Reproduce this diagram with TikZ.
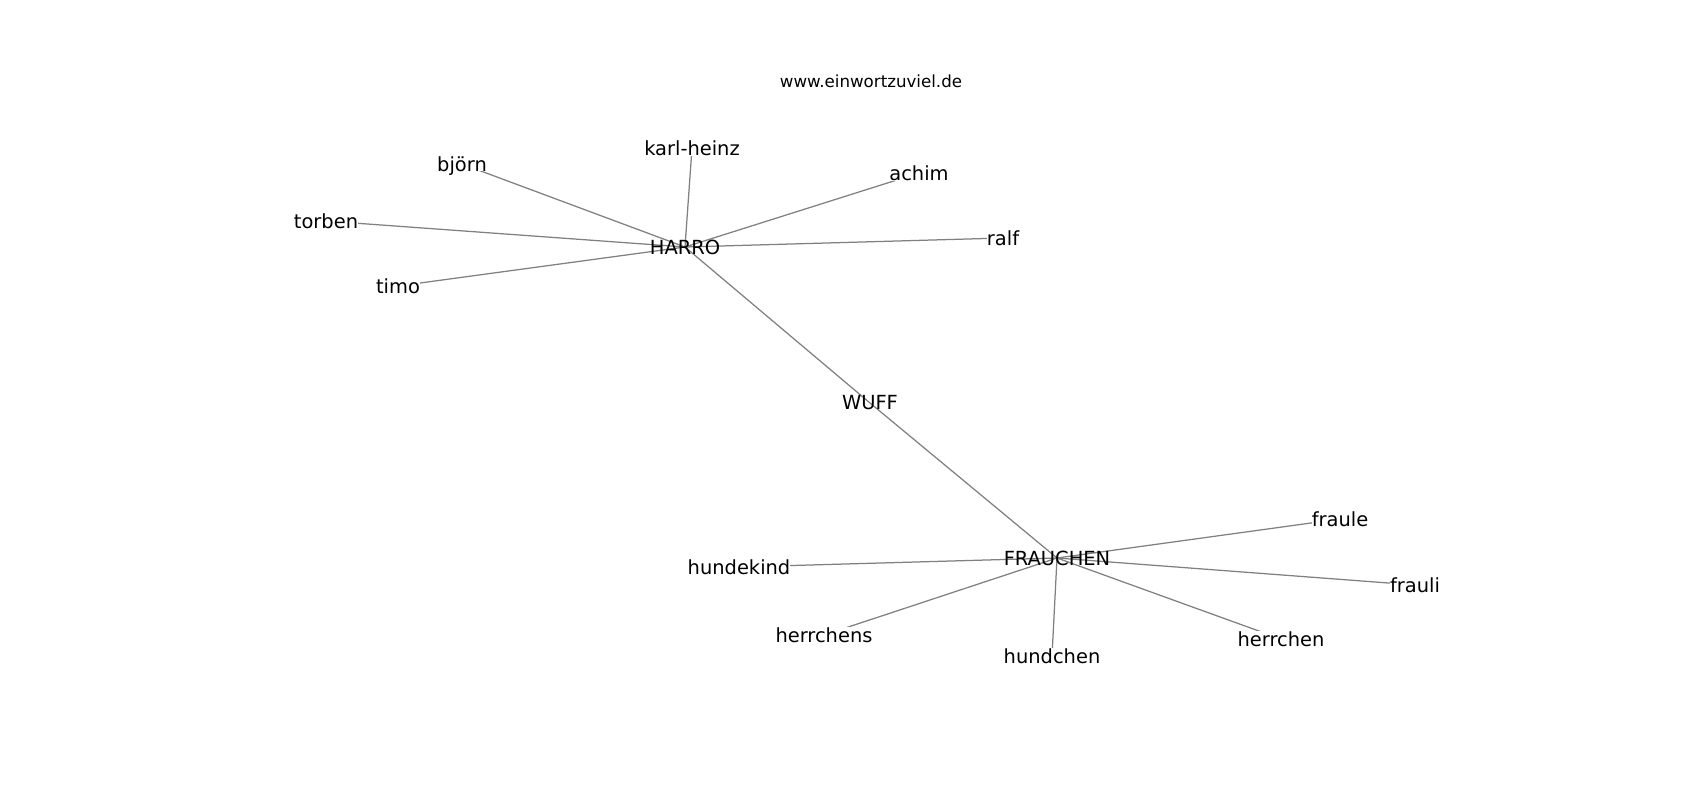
\documentclass[tikz,border=0pt]{standalone}
\usepackage{fontspec}
\setmainfont{DejaVu Sans}
\usetikzlibrary{backgrounds}
\begin{document}
\begin{tikzpicture}[x=0.72pt,y=-0.72pt,
  hub/.style={font=\fontsize{14}{16}\selectfont, inner sep=0pt},
  leaf/.style={hub, fill=white},
  edge/.style={draw=black!50, line width=0.9pt},
  ttl/.style={font=\fontsize{12}{14}\selectfont, inner sep=0pt}]
\useasboundingbox (0,0) rectangle (1700,800);
\node[ttl] (title) at (871,81) {www.einwortzuviel.de};
% hubs
\node[hub] (HARRO) at (685,247) {HARRO};
\node[hub] (WUFF) at (870,403) {WUFF};
\node[hub] (FRAUCHEN) at (1057,558) {FRAUCHEN};
% leaves of HARRO
\node[leaf] (karlheinz) at (692,148) {karl-heinz};
\node[leaf, text depth=0pt] (bjorn) at (462,164) {björn};
\node[leaf] (achim) at (919,173) {achim};
\node[leaf] (torben) at (326,221) {torben};
\node[leaf] (ralf) at (1003,238) {ralf};
\node[leaf] (timo) at (398,286) {timo};
% leaves of FRAUCHEN
\node[leaf] (fraule) at (1340,519) {fraule};
\node[leaf] (hundekind) at (739,567) {hundekind};
\node[leaf] (frauli) at (1415,585) {frauli};
\node[leaf] (herrchens) at (824,635) {herrchens};
\node[leaf] (herrchen) at (1281,639) {herrchen};
\node[leaf] (hundchen) at (1052,656) {hundchen};
\begin{pgfonlayer}{background}
\draw[edge] (HARRO.center) -- (karlheinz.center);
\draw[edge] (HARRO.center) -- (bjorn.center);
\draw[edge] (HARRO.center) -- (achim.center);
\draw[edge] (HARRO.center) -- (torben.center);
\draw[edge] (HARRO.center) -- (ralf.center);
\draw[edge] (HARRO.center) -- (timo.center);
\draw[edge] (HARRO.center) -- (WUFF.center);
\draw[edge] (WUFF.center) -- (FRAUCHEN.center);
\draw[edge] (FRAUCHEN.center) -- (fraule.center);
\draw[edge] (FRAUCHEN.center) -- (hundekind.center);
\draw[edge] (FRAUCHEN.center) -- (frauli.center);
\draw[edge] (FRAUCHEN.center) -- (herrchens.center);
\draw[edge] (FRAUCHEN.center) -- (herrchen.center);
\draw[edge] (FRAUCHEN.center) -- (hundchen.center);
\end{pgfonlayer}
\end{tikzpicture}
\end{document}
